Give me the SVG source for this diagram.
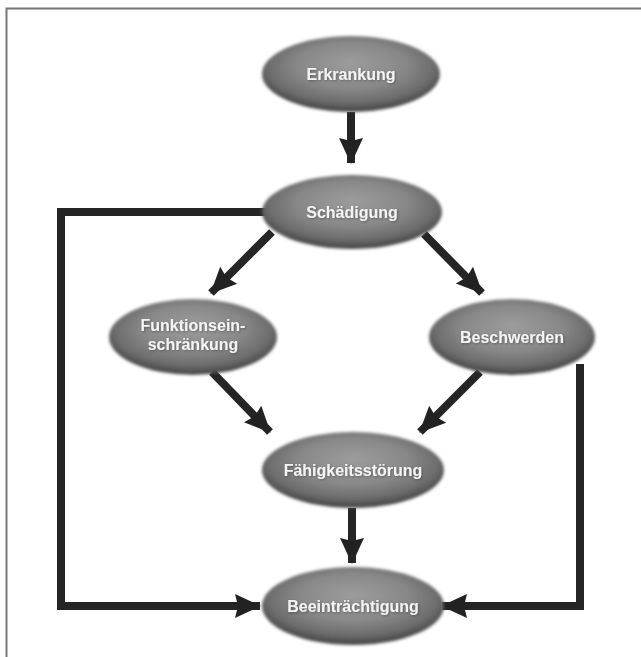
<svg xmlns="http://www.w3.org/2000/svg" width="641" height="657" viewBox="0 0 641 657">
  <defs>
    <radialGradient id="eg" cx="50%" cy="42%" r="55%" fx="50%" fy="35%">
      <stop offset="0" stop-color="#9c9c9c"/>
      <stop offset="0.55" stop-color="#888888"/>
      <stop offset="0.85" stop-color="#6c6c6c"/>
      <stop offset="1" stop-color="#4c4c4c"/>
    </radialGradient>
    <filter id="soft" x="-10%" y="-20%" width="120%" height="140%">
      <feGaussianBlur stdDeviation="1.6"/>
    </filter>
    <filter id="tsh" x="-10%" y="-30%" width="120%" height="160%">
      <feGaussianBlur in="SourceAlpha" stdDeviation="0.8" result="b"/>
      <feOffset dx="0.5" dy="0.8" in="b" result="o"/>
      <feFlood flood-color="#333" flood-opacity="0.5"/>
      <feComposite in2="o" operator="in" result="s"/>
      <feMerge><feMergeNode in="s"/><feMergeNode in="SourceGraphic"/></feMerge>
    </filter>
    <marker id="ah" markerUnits="userSpaceOnUse" markerWidth="30" markerHeight="28" refX="25" refY="14" orient="auto">
      <path d="M0,2 L26,14 L0,26 L3,14 z" fill="#222"/>
    </marker>
  </defs>
  <style>
    .node ellipse { fill: url(#eg); filter: url(#soft); }
    .node text { font-family: "Liberation Sans", Arial, sans-serif; font-weight: bold; font-size: 16px; fill: #f4f4f4; text-anchor: middle; filter: url(#tsh); }
    .conn { fill: none; stroke: #252525; stroke-width: 8; stroke-linejoin: miter; }
  </style>
  <rect width="641" height="657" fill="#ffffff"/>
  <path d="M6.5,657 L6.5,8.5 L641,8.5" fill="none" stroke="#777" stroke-width="2"/>

  <g id="connectors">
    <path class="conn" d="M351,112 L351,163" marker-end="url(#ah)"/>
    <path class="conn" d="M272,232 L211,293" marker-end="url(#ah)"/>
    <path class="conn" d="M424,234 L482,293" marker-end="url(#ah)"/>
    <path class="conn" d="M212,372 L270,432" marker-end="url(#ah)"/>
    <path class="conn" d="M480,372 L420,432" marker-end="url(#ah)"/>
    <path class="conn" d="M352,508 L352,563" marker-end="url(#ah)"/>
    <path class="conn" d="M266,212 L61,212 L61,606 L260,606" marker-end="url(#ah)"/>
    <path class="conn" d="M580,364 L580,606 L442,606" marker-end="url(#ah)"/>
  </g>

  <g id="erkrankung" class="node">
    <ellipse cx="351" cy="74" rx="89" ry="38"/>
    <text x="351" y="80">Erkrankung</text>
  </g>
  <g id="schaedigung" class="node">
    <ellipse cx="352" cy="212" rx="90" ry="37"/>
    <text x="352" y="218">Schädigung</text>
  </g>
  <g id="funktionseinschraenkung" class="node">
    <ellipse cx="193" cy="337" rx="84" ry="38"/>
    <text x="193" y="331">Funktionsein-</text>
    <text x="193" y="350">schränkung</text>
  </g>
  <g id="beschwerden" class="node">
    <ellipse cx="512" cy="337" rx="83" ry="38"/>
    <text x="512" y="343">Beschwerden</text>
  </g>
  <g id="faehigkeitsstoerung" class="node">
    <ellipse cx="353" cy="470" rx="91" ry="38"/>
    <text x="353" y="476">Fähigkeitsstörung</text>
  </g>
  <g id="beeintraechtigung" class="node">
    <ellipse cx="353" cy="606" rx="91" ry="39"/>
    <text x="353" y="612">Beeinträchtigung</text>
  </g>
</svg>
